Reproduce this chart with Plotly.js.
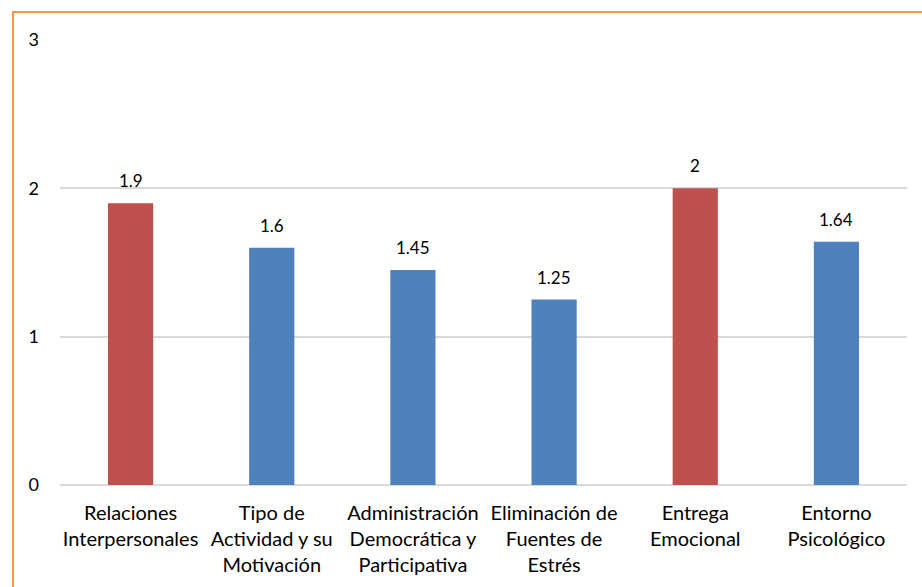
<!DOCTYPE html>
<html>
<head>
<meta charset="utf-8">
<script src="https://cdn.plot.ly/plotly-3.0.1.min.js"></script>
<style>
  html, body { margin: 0; padding: 0; background: #fff; }
  #frame {
    position: absolute; left: 12px; top: 11px; width: 910px; height: 576px;
    border-top: 2px solid #F79646; border-left: 2px solid #F79646;
    box-sizing: border-box;
  }
  #chart { position: absolute; left: 0; top: 0; width: 922px; height: 587px; }
</style>
</head>
<body>
<div id="frame"></div>
<div id="chart"></div>
<script>
// Dimension labels (multi-line as shown under each bar)
const categories = [
  "Relaciones<br>Interpersonales",
  "Tipo de<br>Actividad y su<br>Motivación",
  "Administración<br>Democrática y<br>Participativa",
  "Eliminación de<br>Fuentes de<br>Estrés",
  "Entrega<br>Emocional",
  "Entorno<br>Psicológico"
];
const values = [1.9, 1.6, 1.45, 1.25, 2, 1.64];
const highlighted = [true, false, false, false, true, false];

const RED = "#C0504D";
const BLUE = "#4F81BD";
const FONT = "Lato, 'Open Sans', sans-serif";

const trace = {
  type: "bar",
  x: categories,
  y: values,
  marker: { color: highlighted.map(h => h ? RED : BLUE) },
  hoverinfo: "x+y"
};

const labels = categories.map((c, i) => ({
  x: c, y: values[i], xref: "x", yref: "y",
  text: String(values[i]),
  showarrow: false, yanchor: "bottom", yshift: 10,
  font: { family: FONT, size: 17, color: "#000" }
}));

const layout = {
  width: 922, height: 587,
  margin: { l: 60, r: 15, t: 40, b: 102 },
  paper_bgcolor: "rgba(0,0,0,0)",
  plot_bgcolor: "rgba(0,0,0,0)",
  bargap: 0.68,
  showlegend: false,
  font: { family: FONT, color: "#000" },
  xaxis: {
    type: "category",
    showgrid: false, showline: false, zeroline: false,
    ticks: "", ticklen: 0,
    ticklabelstandoff: 14,
    tickfont: { family: FONT, size: 20, color: "#000" },
    fixedrange: true
  },
  yaxis: {
    range: [0, 3],
    dtick: 1, tick0: 0,
    showgrid: true, gridcolor: "#D9D9D9", gridwidth: 2,
    zeroline: true, zerolinecolor: "#D9D9D9", zerolinewidth: 2,
    showline: false, ticks: "",
    ticklabelstandoff: 20,
    tickfont: { family: FONT, size: 18, color: "#000" },
    fixedrange: true
  },
  annotations: labels
};

Plotly.newPlot("chart", [trace], layout, { displayModeBar: false, staticPlot: true });
</script>
</body>
</html>
